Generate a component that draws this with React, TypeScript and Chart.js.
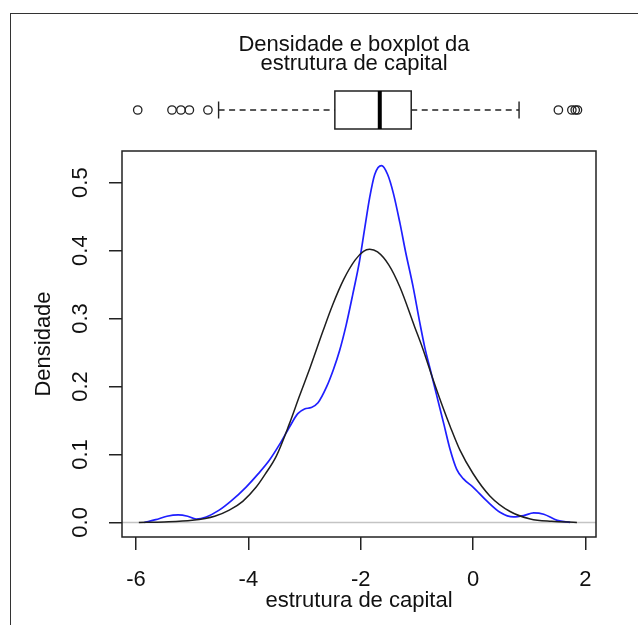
import React, { useEffect, useRef } from "react";
import { Chart, registerables } from "chart.js";

Chart.register(...registerables);

const TITLE_LINES = ["Densidade e boxplot da", "estrutura de capital"];
const X_TITLE = "estrutura de capital";
const Y_TITLE = "Densidade";
const X_TICKS = [-6, -4, -2, 0, 2];
const Y_TICKS = [0, 0.1, 0.2, 0.3, 0.4, 0.5];
const X_RANGE = [-6.25, 2.19];
const Y_RANGE = [-0.0215, 0.5466];

// kernel density (blue)
const KDE_X = [
  -5.85, -5.65, -5.45, -5.25, -5.08, -4.93, -4.75, -4.52, -4.3, -4.04,
  -3.83, -3.63, -3.45, -3.27, -3.12, -3.0, -2.88, -2.76, -2.61, -2.49,
  -2.375, -2.26, -2.14, -2.02, -1.93, -1.84, -1.75, -1.63, -1.52, -1.42,
  -1.3, -1.2, -1.07, -0.95, -0.86, -0.77, -0.65, -0.52, -0.41, -0.29,
  -0.17, 0.0, 0.24, 0.48, 0.72, 0.9, 1.08, 1.26, 1.5, 1.73,
];
const KDE_Y = [
  0.0, 0.004, 0.009, 0.011, 0.009, 0.005, 0.008, 0.018, 0.032, 0.052,
  0.071, 0.091, 0.114, 0.14, 0.16, 0.167, 0.169, 0.176, 0.199, 0.224,
  0.253, 0.29, 0.336, 0.385, 0.432, 0.478, 0.512, 0.525, 0.512, 0.485,
  0.44, 0.398, 0.348, 0.295, 0.258, 0.228, 0.188, 0.145, 0.108, 0.078,
  0.064, 0.052, 0.032, 0.015, 0.008, 0.01, 0.014, 0.012, 0.003, 0.0,
];

// normal density (black)
const NORMAL_X = [
  -5.95, -5.5, -5.0, -4.6, -4.34, -4.1, -3.86, -3.7, -3.5, -3.27,
  -3.09, -2.9, -2.67, -2.5, -2.3, -2.1, -1.95, -1.84, -1.7, -1.5,
  -1.3, -1.04, -0.9, -0.71, -0.53, -0.41, -0.23, 0.0, 0.3, 0.66,
  1.02, 1.4, 1.85,
];
const NORMAL_Y = [
  0.0, 0.0006, 0.003, 0.009, 0.018, 0.031, 0.052, 0.071, 0.098, 0.145,
  0.186, 0.228, 0.282, 0.32, 0.358, 0.386, 0.399, 0.402, 0.398, 0.379,
  0.346, 0.288, 0.257, 0.21, 0.168, 0.142, 0.106, 0.072, 0.039, 0.016,
  0.005, 0.0015, 0.0,
];

// boxplot: lower whisker, Q1, median, Q3, upper whisker
const BOX_STATS = [-4.53, -2.46, -1.66, -1.1, 0.82];
const BOX_OUTLIERS = [-5.97, -5.36, -5.2, -5.05, -4.72, 1.52, 1.76, 1.82, 1.86];

const FONT = "'Liberation Sans', Arial, sans-serif";

const decorPlugin = {
  id: "decor",
  beforeDatasetsDraw(chart: any) {
    const { ctx, chartArea: a, scales } = chart;
    const y0 = scales.y.getPixelForValue(0);
    ctx.save();
    ctx.strokeStyle = "#c4c4c4";
    ctx.lineWidth = 1.5;
    ctx.beginPath();
    ctx.moveTo(a.left, y0);
    ctx.lineTo(a.right, y0);
    ctx.stroke();
    ctx.restore();
  },
  afterDraw(chart: any) {
    const { ctx, chartArea: a, scales } = chart;
    const x = scales.x;
    ctx.save();
    // plot box
    ctx.strokeStyle = "#222";
    ctx.lineWidth = 1.5;
    ctx.strokeRect(a.left, a.top, a.right - a.left, a.bottom - a.top);
    // title
    ctx.fillStyle = "#111";
    ctx.font = `22px ${FONT}`;
    ctx.textAlign = "center";
    ctx.textBaseline = "alphabetic";
    ctx.fillText(TITLE_LINES[0], 354, 51);
    ctx.fillText(TITLE_LINES[1], 354, 70);
    // boxplot
    const yc = 110, top = 91, bot = 129, cap = 8.5;
    const [lo, q1, med, q3, hi] = BOX_STATS.map((v) => x.getPixelForValue(v));
    ctx.strokeStyle = "#222";
    ctx.lineWidth = 1.4;
    ctx.setLineDash([6, 4.5]);
    ctx.beginPath();
    ctx.moveTo(lo, yc);
    ctx.lineTo(q1, yc);
    ctx.moveTo(q3, yc);
    ctx.lineTo(hi, yc);
    ctx.stroke();
    ctx.setLineDash([]);
    ctx.beginPath();
    ctx.moveTo(lo, yc - cap);
    ctx.lineTo(lo, yc + cap);
    ctx.moveTo(hi, yc - cap);
    ctx.lineTo(hi, yc + cap);
    ctx.stroke();
    ctx.lineWidth = 1.5;
    ctx.strokeRect(q1, top, q3 - q1, bot - top);
    ctx.lineWidth = 4;
    ctx.strokeStyle = "#000";
    ctx.beginPath();
    ctx.moveTo(med, top);
    ctx.lineTo(med, bot);
    ctx.stroke();
    ctx.lineWidth = 1.3;
    ctx.strokeStyle = "#222";
    BOX_OUTLIERS.forEach((v) => {
      ctx.beginPath();
      ctx.arc(x.getPixelForValue(v), yc, 4.2, 0, Math.PI * 2);
      ctx.stroke();
    });
    ctx.restore();
  },
};

export default function App() {
  const ref = useRef<HTMLCanvasElement>(null);
  useEffect(() => {
    Chart.defaults.font.family = FONT;
    const chart = new Chart(ref.current as HTMLCanvasElement, {
      type: "line",
      data: {
        datasets: [
          {
            label: "normal",
            data: NORMAL_X.map((v, i) => ({ x: v, y: NORMAL_Y[i] })),
            borderColor: "#1e1e1e",
            borderWidth: 1.5,
            pointRadius: 0,
            cubicInterpolationMode: "monotone",
            fill: false,
            order: 1,
          },
          {
            label: "densidade",
            data: KDE_X.map((v, i) => ({ x: v, y: KDE_Y[i] })),
            borderColor: "#1f1fff",
            borderWidth: 1.7,
            pointRadius: 0,
            cubicInterpolationMode: "monotone",
            fill: false,
            order: 2,
          },
        ],
      },
      options: {
        animation: false,
        responsive: false,
        maintainAspectRatio: false,
        layout: { padding: { top: 151, right: 42, left: 0, bottom: 0 } },
        plugins: {
          legend: { display: false },
          tooltip: { enabled: false },
          title: { display: false },
        },
        scales: {
          x: {
            type: "linear",
            min: X_RANGE[0],
            max: X_RANGE[1],
            afterFit: (s: any) => {
              s.height = 88;
            },
            afterBuildTicks: (s: any) => {
              s.ticks = X_TICKS.map((v) => ({ value: v }));
            },
            grid: { drawOnChartArea: false, drawTicks: true, tickLength: 13, color: "#222", lineWidth: 1.5 },
            border: { display: false },
            ticks: {
              padding: 17,
              autoSkip: false,
              maxRotation: 0,
              color: "#111",
              font: { size: 22 },
              callback: (v: any) => String(v),
            },
            title: {
              display: true,
              text: X_TITLE,
              color: "#111",
              font: { size: 22 },
              padding: { top: 0, bottom: 11 },
            },
          },
          y: {
            type: "linear",
            min: Y_RANGE[0],
            max: Y_RANGE[1],
            afterFit: (s: any) => {
              s.width = 122;
            },
            afterBuildTicks: (s: any) => {
              s.ticks = Y_TICKS.map((v) => ({ value: v }));
            },
            grid: { drawOnChartArea: false, drawTicks: true, tickLength: 13, color: "#222", lineWidth: 1.5 },
            border: { display: false },
            ticks: {
              padding: 13,
              autoSkip: false,
              minRotation: 90,
              maxRotation: 90,
              crossAlign: "center",
              color: "#111",
              font: { size: 22 },
              callback: (v: any) => Number(v).toFixed(1),
            },
            title: {
              display: true,
              text: Y_TITLE,
              color: "#111",
              font: { size: 22 },
              padding: { top: 31, bottom: 0 },
            },
          },
        },
      } as any,
      plugins: [decorPlugin],
    });
    return () => chart.destroy();
  }, []);
  return (
    <div
      style={{
        position: "absolute",
        left: 0,
        top: 0,
        width: 638,
        height: 625,
        background: "#fff",
        overflow: "hidden",
      }}
    >
      <div
        style={{
          position: "absolute",
          left: 10,
          top: 13,
          right: -2,
          bottom: -2,
          borderTop: "1px solid #333",
          borderLeft: "1px solid #333",
        }}
      />
      <canvas
        ref={ref}
        width={638}
        height={625}
        style={{ position: "absolute", left: 0, top: 0, width: 638, height: 625 }}
      />
    </div>
  );
}
